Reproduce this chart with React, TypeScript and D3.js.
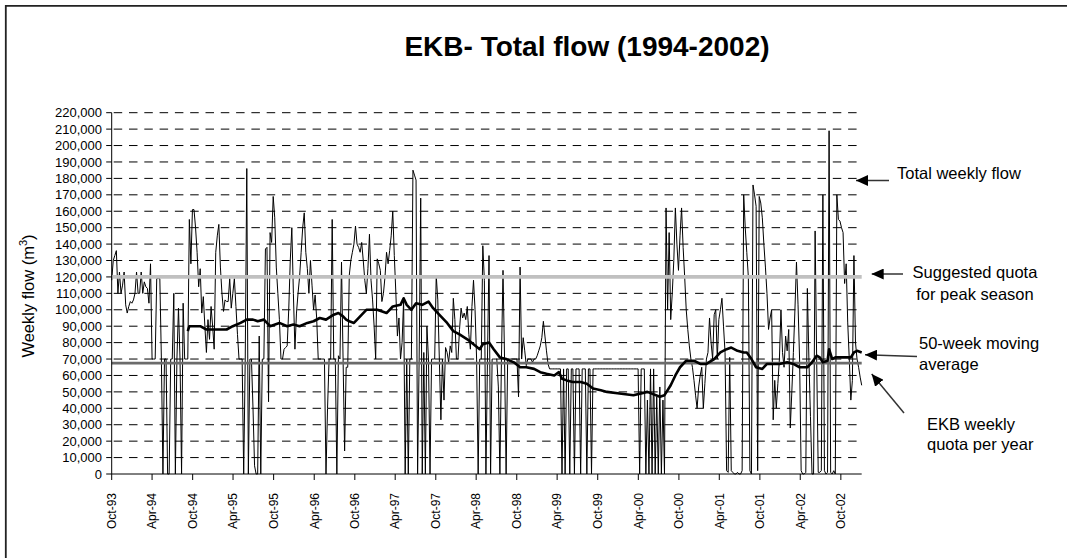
import React from 'react';
import * as d3 from 'd3';

// first week of the series and last week (axis runs exactly over the data)
const START = new Date(1993, 9, 1);
const END = new Date(2003, 0, 3);

// total weekly flow, thousand m3, one value per week from 1 Oct 1993
const weeklyFlow = [
  118, 130, 133, 136, 110, 123, 110, 115, 123, 103,
  98, 102, 105, 104, 106, 110, 123, 110, 110, 123,
  110, 117, 114, 113, 104, 128, 70, 70, 70, 119,
  119, 119, 70, 0, 70, 70, 0, 0, 70, 70,
  110, 0, 70, 101, 70, 0, 104, 70, 70, 70,
  155, 128, 161, 161, 150, 135, 114, 125, 98, 108,
  90, 74, 94, 82, 102, 90, 76, 135, 145, 152,
  126, 110, 99, 106, 105, 105, 119, 101, 110, 119,
  102, 85, 70, 70, 70, 0, 70, 186, 0, 70,
  70, 40, 5, 0, 0, 84, 0, 70, 70, 137,
  138, 44, 147, 141, 169, 156, 126, 110, 94, 70,
  70, 76, 77, 78, 100, 130, 150, 110, 76, 98,
  110, 120, 135, 150, 159, 135, 125, 110, 130, 115,
  100, 109, 95, 70, 70, 70, 70, 70, 0, 40,
  70, 70, 155, 70, 70, 0, 72, 70, 129, 70,
  14, 65, 65, 121, 130, 135, 140, 151, 140, 138,
  135, 141, 130, 118, 110, 125, 146, 118, 106, 90,
  70, 131, 128, 124, 105, 110, 120, 135, 128, 136,
  145, 160, 133, 110, 84, 95, 70, 80, 106, 0,
  70, 0, 70, 70, 185, 182, 179, 0, 70, 168,
  0, 74, 0, 90, 70, 0, 70, 70, 70, 121,
  106, 70, 33, 70, 45, 77, 74, 68, 78, 74,
  107, 94, 70, 70, 88, 101, 95, 98, 94, 102,
  85, 76, 102, 118, 100, 70, 0, 70, 70, 139,
  118, 0, 70, 133, 0, 70, 70, 70, 70, 53,
  0, 70, 124, 70, 0, 70, 70, 70, 70, 70,
  70, 70, 47, 126, 70, 83, 75, 66, 70, 70,
  70, 68, 70, 70, 72, 75, 78, 83, 93, 84,
  75, 67, 64, 64, 64, 64, 64, 64, 64, 64,
  0, 64, 0, 64, 64, 0, 64, 64, 0, 64,
  64, 64, 0, 64, 64, 64, 0, 64, 64, 0,
  64, 64, 64, 64, 64, 64, 64, 64, 64, 64,
  64, 64, 64, 64, 64, 64, 64, 64, 64, 64,
  64, 64, 64, 64, 64, 64, 64, 64, 64, 64,
  0, 64, 64, 64, 0, 45, 0, 64, 0, 64,
  0, 47, 0, 53, 0, 45, 0, 162, 100, 147,
  94, 110, 130, 162, 140, 124, 145, 162, 138, 120,
  100, 88, 78, 70, 65, 57, 48, 40, 53, 60,
  65, 40, 55, 70, 74, 95, 80, 70, 97, 100,
  70, 94, 100, 107, 90, 74, 2, 1, 71, 2,
  1, 0, 0, 1, 0, 0, 2, 170, 150, 135,
  120, 2, 0, 176, 170, 163, 2, 169, 165, 156,
  140, 126, 110, 88, 95, 100, 33, 57, 40, 55,
  70, 100, 74, 65, 84, 75, 88, 28, 50, 74,
  100, 129, 103, 70, 2, 0, 0, 1, 113, 70,
  35, 0, 0, 148, 70, 1, 1, 2, 170, 2,
  0, 1, 209, 1, 0, 2, 0, 170, 155, 154,
  150, 147, 116, 128, 92, 70, 45, 57, 133, 80,
  70, 65, 59, 54,
];

// 50-week moving average: week index -> thousand m3
const maWeeks = [
  49, 50, 57, 61, 66, 70, 74, 78, 83, 87, 91, 94, 98, 102, 108, 113, 117, 121, 126, 130,
  134, 138, 143, 146, 149, 151, 153, 156, 158, 160, 164, 171, 177, 181, 186, 188, 190, 193, 196, 200,
  204, 207, 212, 216, 220, 224, 229, 233, 237, 239, 243, 246, 250, 254, 259, 263, 267, 272, 276, 280,
  285, 288, 290, 293, 297, 302, 306, 310, 315, 319, 327, 336, 345, 353, 356, 360, 363, 366, 370, 375,
  379, 383, 388, 392, 396, 399, 403, 407, 409, 412, 415, 419, 422, 426, 430, 435, 439, 443, 448, 451,
  454, 456, 458, 461, 462, 464, 466, 469, 473, 476, 478, 480, 483,
];
const maValues = [
  87, 90, 90, 88, 88, 88, 88, 90, 92, 94, 94, 93, 94, 90, 92, 90, 91, 90, 92, 93,
  95, 94, 97, 98, 96, 94, 93, 92, 94, 96, 100, 100, 98, 102, 103, 107, 103, 100, 104, 103,
  105, 101, 96, 92, 87, 85, 82, 79, 76, 79, 80, 76, 71, 70, 68, 65, 65, 64, 62, 61,
  60, 62, 58, 57, 56, 56, 55, 52, 51, 50, 49, 48, 50, 47, 48, 54, 60, 65, 69, 69,
  67, 67, 70, 74, 76, 77, 75, 74, 74, 70, 65, 64, 67, 67, 67, 68, 67, 65, 65, 68,
  72, 71, 68, 69, 76, 70, 71, 71, 71, 71, 74, 75, 74,
];

const suggestedQuota = 120000;
const ekbQuota = 67500;

const yMax = 220000;
const yStep = 10000;

const FONT = "Arial, 'Liberation Sans', Helvetica, sans-serif";

const weekDate = (i: number) => d3.timeDay.offset(START, i * 7);

const App = () => {
  const x = d3.scaleTime().domain([START, END]).range([111.7, 861.7]);
  const y = d3.scaleLinear().domain([0, yMax]).range([474, 112.7]);

  const flowLine = d3
    .line<number>()
    .x((d, i) => x(weekDate(i)))
    .y((d) => y(d * 1000));
  const maLine = d3
    .line<number>()
    .x((d, i) => x(weekDate(maWeeks[i])))
    .y((d) => y(d * 1000));

  const yTicks = d3.range(0, yMax + 1, yStep);
  const xTicks = d3.timeMonths(START, d3.timeDay.offset(END, 1), 6);
  const fmtDate = d3.timeFormat('%b-%y');
  const fmtNum = d3.format(',');

  const [x0, x1] = x.range();

  return (
    <svg
      width={1067}
      height={558}
      style={{ position: 'absolute', left: 0, top: 0, display: 'block', background: '#fff' }}
      fontFamily={FONT}
    >
      <defs>
        <marker
          id="head"
          viewBox="0 0 12 11"
          refX={12}
          refY={5.5}
          markerWidth={12}
          markerHeight={11}
          markerUnits="userSpaceOnUse"
          orient="auto"
        >
          <path d="M0,0 L12,5.5 L0,11 Z" fill="#000" />
        </marker>
      </defs>

      {/* frame */}
      <path d="M5.8,560 V5.8 H1070" fill="none" stroke="#222" strokeWidth={1.8} />

      <text x={587} y={56} textAnchor="middle" fontSize={28} fontWeight="bold">
        EKB- Total flow (1994-2002)
      </text>

      {/* gridlines */}
      {yTicks.slice(1).map((t) => (
        <line
          key={t}
          x1={x0}
          x2={x1}
          y1={y(t)}
          y2={y(t)}
          stroke="#000"
          strokeWidth={1}
          strokeDasharray="8.5 6.8"
          strokeDashoffset={-2}
        />
      ))}

      <path d={flowLine(weeklyFlow) || ''} fill="none" stroke="#000" strokeWidth={1} />

      <line x1={x0} x2={x1} y1={y(suggestedQuota)} y2={y(suggestedQuota)} stroke="#c0c0c0" strokeWidth={3.8} />
      <line x1={x0} x2={x1} y1={y(ekbQuota)} y2={y(ekbQuota)} stroke="#6b6b6b" strokeWidth={2.7} />

      <path d={maLine(maValues) || ''} fill="none" stroke="#000" strokeWidth={2.6} strokeLinejoin="round" />

      {/* y axis */}
      <line x1={x0} x2={x0} y1={y(yMax)} y2={y(0)} stroke="#000" />
      {yTicks.map((t) => (
        <g key={t}>
          <line x1={x0 - 5.5} x2={x0} y1={y(t)} y2={y(t)} stroke="#000" />
          <text x={102} y={y(t)} dy="0.36em" textAnchor="end" fontSize={13}>
            {fmtNum(t)}
          </text>
        </g>
      ))}
      <text transform="translate(34,296) rotate(-90)" textAnchor="middle" fontSize={16.5}>
        Weekly flow (m<tspan dy={-7} fontSize={11}>3</tspan>
        <tspan dy={7}>)</tspan>
      </text>

      {/* x axis */}
      <line x1={x0} x2={x1} y1={y(0)} y2={y(0)} stroke="#000" />
      {xTicks.map((d) => (
        <g key={d.getTime()}>
          <line x1={x(d)} x2={x(d)} y1={y(0)} y2={y(0) + 6} stroke="#000" />
          <text
            transform={`translate(${x(d) + 4.3},493) rotate(-90)`}
            textAnchor="end"
            fontSize={12}
          >
            {fmtDate(d)}
          </text>
        </g>
      ))}

      {/* annotations */}
      <g stroke="#333" strokeWidth={1.5} markerEnd="url(#head)">
        <line x1={889} y1={180.5} x2={856} y2={180.5} />
        <line x1={903} y1={274} x2={871.7} y2={274} />
        <line x1={917} y1={356.5} x2={865} y2={354.7} />
        <line x1={904} y1={413} x2={871.7} y2={374} />
      </g>
      <g fontSize={16.5}>
        <text x={897} y={179}>Total weekly flow</text>
        <text x={975} y={278} textAnchor="middle">Suggested quota</text>
        <text x={975} y={300} textAnchor="middle">for peak season</text>
        <text x={919} y={349}>50-week moving</text>
        <text x={919} y={370}>average</text>
        <text x={927} y={430}>EKB weekly</text>
        <text x={927} y={450}>quota per year</text>
      </g>
    </svg>
  );
};

export default App;
